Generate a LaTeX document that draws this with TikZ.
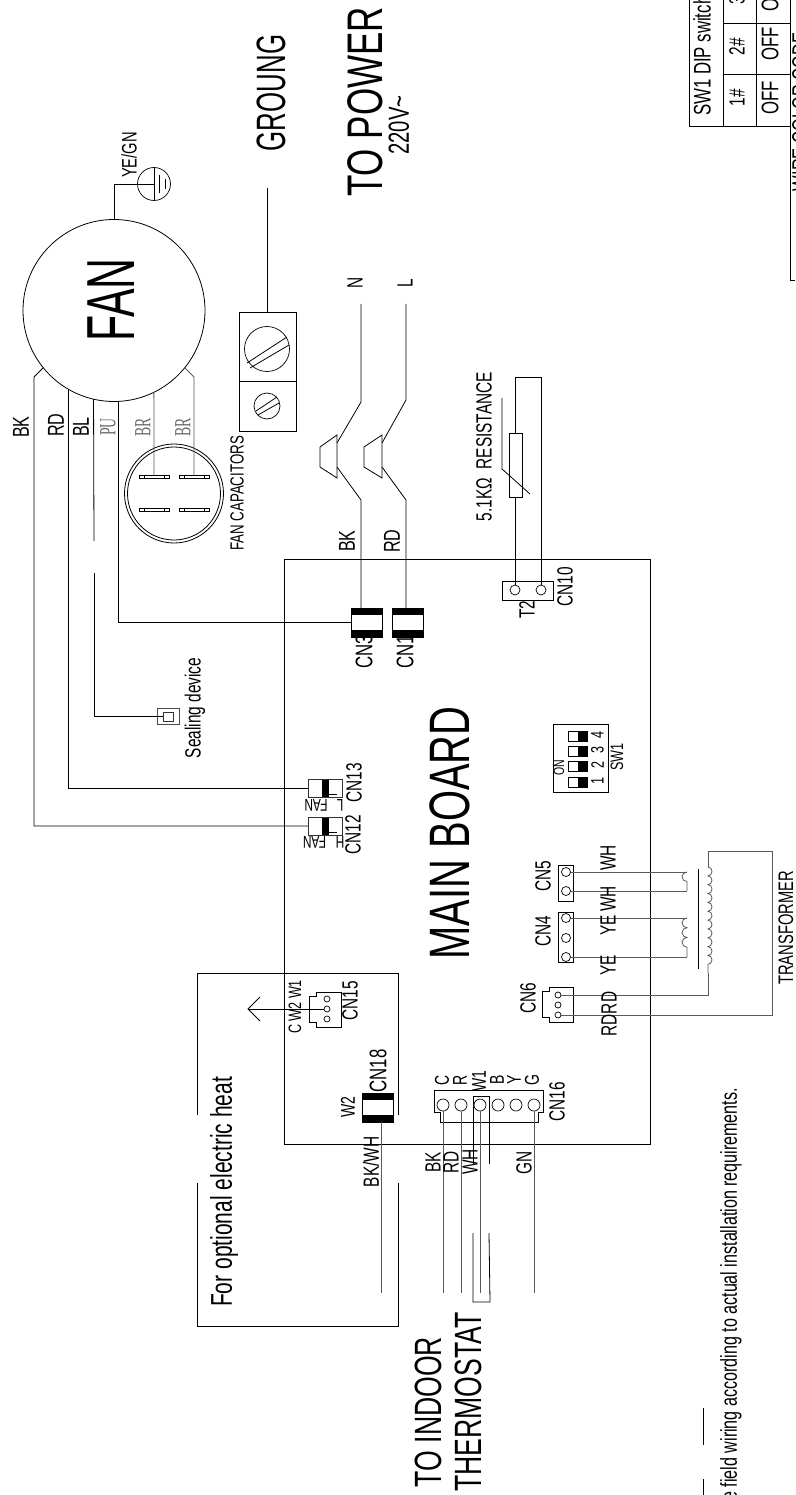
\documentclass[tikz,border=0pt]{standalone}
\usepackage{fontspec}
\setsansfont{Liberation Sans}[FakeStretch=0.7]
\newfontfamily\narrowfont{Liberation Sans}[FakeStretch=0.63]
\newfontfamily\thinfont{Liberation Serif}[FakeStretch=0.6]
\usepackage{tikz}
\usetikzlibrary{calc}
\usetikzlibrary{decorations.pathmorphing}
\tikzset{
	lbl/.style={rotate=90,inner sep=0pt,outer sep=0pt,font=\fontsize{#1}{#1}\selectfont\sffamily},
	flat/.style={inner sep=0pt,outer sep=0pt,rotate=180,font=\fontsize{#1}{#1}\selectfont\sffamily},
	brand/.style={lbl=#1,font=\fontsize{#1}{#1}\selectfont\narrowfont},
	thinlbl/.style={rotate=90,inner sep=0pt,outer sep=0pt,text=black!60,font=\fontsize{#1}{#1}\selectfont\thinfont},
	wire/.style={line width=0.8pt},
	greywire/.style={line width=0.8pt,black!65},
	box/.style={draw,inner sep=0pt,outer sep=0pt,line width=0.8pt},
	pinhole/.style={draw,circle,inner sep=0pt,outer sep=0pt,line width=0.7pt,minimum size=#1},
	clamp/.style={box,minimum width=31pt,minimum height=29pt,path picture={
		\fill (path picture bounding box.north west) rectangle ([yshift=-7pt]path picture bounding box.north east);
		\fill (path picture bounding box.south west) rectangle ([yshift=7pt]path picture bounding box.south east);}},
	fanplug/.style={box,black!80,minimum width=34pt,minimum height=18pt,path picture={
		\fill[black] ([xshift=14pt]path picture bounding box.north west) rectangle ([xshift=21pt]path picture bounding box.south west);
		\draw[black,line width=1pt] ([xshift=21pt,yshift=3pt]path picture bounding box.south west) -- ([xshift=29pt,yshift=3pt]path picture bounding box.south west);}},
	dipkey/.style={box,minimum width=19pt,minimum height=10pt,path picture={
		\fill ([xshift=10pt]path picture bounding box.north west) rectangle (path picture bounding box.south east);}},
	termbar/.style={box,line width=0.6pt,minimum width=30pt,minimum height=3.5pt},
}
\begin{document}
\begin{tikzpicture}[x=1pt,y=-1pt,font=\sffamily]
	\useasboundingbox (0,0) rectangle (795,1495);
	\node[box,minimum width=366pt,minimum height=585pt] (board) at (467,851.5) {};
	\node[lbl=57] (boardtxt) at (449.5,833) {MAIN BOARD};
	% fan and earth
	\node[box,circle,minimum size=182pt] (fan) at (114,310.5) {};
	\node[brand=68] (fantxt) at (111,300) {FAN};
	\node[pinhole=33pt] (earth) at (154,184) {};
	\coordinate (earthbend) at (114,184);
	\draw[wire] (fan.north -| earthbend) -- (earthbend) -- (earth.center);
	\draw[wire] (earth.north) -- (earth.south);
	\draw[wire] ($(earth.center)+(5.5,-9)$) -- ($(earth.center)+(5.5,9)$);
	\draw[wire] ($(earth.center)+(11,-5)$) -- ($(earth.center)+(11,5)$);
	\node[lbl=21] (yegn) at (129,155) {YE/GN};
	% fan wires
	\coordinate (bkbend) at (34,377);
	\coordinate (br2bend) at (194,377);
	\coordinate (blgap1) at (94,541);
	\coordinate (blgap2) at (94,573);
	\node[lbl=24] (cn3txt) at (364,652) {CN3};
	\node[lbl=24] (cn1txt) at (405,652) {CN1};
	\node[fanplug] (cn13) at (325,788) {};
	\node[fanplug] (cn12) at (325,826) {};
	\node[clamp] (cn3) at (366.5,622.5) {};
	\node[clamp] (cn1) at (407.5,622.5) {};
	\node[box,black!70,minimum width=22pt,minimum height=16pt] (sealout) at (168,716) {};
	\node[box,black!80,minimum width=10pt,minimum height=9pt] (sealin) at (168,716.5) {};
	\draw[wire] (fan.219) -- (bkbend) |- (cn12.west);
	\draw[wire] (fan.240) |- (cn13.west);
	\draw[wire] (fan.257) -- (blgap1);
	\draw[wire] (blgap2) |- (sealin.west);
	\draw[wire] (fan.273) |- (cn3.west);
	\node[lbl=23] (bkfan) at (21,427) {BK};
	\node[lbl=23] (rdfan) at (56,425) {RD};
	\node[lbl=23] (blfan) at (81,427) {BL};
	\node[thinlbl=23] (pufan) at (108,427) {PU};
	\node[thinlbl=23] (brfan1) at (143,427) {BR};
	\node[thinlbl=23] (brfan2) at (183,427) {BR};
	\node[lbl=22] (sealtxt) at (195,708) {Sealing device};
	% capacitors
	\node[box,circle,minimum size=99pt] (capout) at (174,493.5) {};
	\node[box,circle,minimum size=93pt] (capin) at (174,493.5) {};
	\node[termbar] (term1) at (154,477) {};
	\node[termbar] (term2) at (194,477) {};
	\node[termbar] (term3) at (154,510) {};
	\node[termbar] (term4) at (194,510) {};
	\draw[greywire] (fan.296) -- (term1.north);
	\draw[greywire] (fan.321) -- (br2bend) -- (term2.north);
	\draw ([xshift=5pt]term1.north west) -- ([xshift=5pt]term1.south west);
	\draw ([xshift=-5pt]term1.north east) -- ([xshift=-5pt]term1.south east);
	\draw ([xshift=5pt]term2.north west) -- ([xshift=5pt]term2.south west);
	\draw ([xshift=-5pt]term2.north east) -- ([xshift=-5pt]term2.south east);
	\draw ([xshift=5pt]term3.north west) -- ([xshift=5pt]term3.south west);
	\draw ([xshift=-5pt]term3.north east) -- ([xshift=-5pt]term3.south east);
	\draw ([xshift=5pt]term4.north west) -- ([xshift=5pt]term4.south west);
	\draw ([xshift=-5pt]term4.north east) -- ([xshift=-5pt]term4.south east);
	\node[lbl=19] (captxt) at (237,493.5) {FAN CAPACITORS};
	% ground block
	\node[box,minimum width=57pt,minimum height=69pt] (blockbig) at (267.5,346.5) {};
	\node[box,minimum width=57pt,minimum height=50pt] (blocksmall) at (267.5,406) {};
	\node[pinhole=45pt] (screwbig) at (267,349) {};
	\node[pinhole=26pt] (screwsmall) at (267,406) {};
	\coordinate (groundend) at (267,188);
	\draw[wire] (groundend) -- (groundend |- blockbig.north);
	\draw[wire] (247,363) -- (287,337);
	\draw[wire] (250,368) -- (289,345);
	\draw[wire] (256,411) -- (277,397);
	\draw[wire] (258,415) -- (279,403);
	\node[brand=41] (groundtxt) at (271,93) {GROUNG};
	% power plugs
	\draw[wire] (337,435) -- (337,478) -- (320,467) -- (320,447) -- cycle;
	\draw[wire] (382,435) -- (382,478) -- (364,467) -- (364,447) -- cycle;
	\coordinate (nend) at (361,304);
	\coordinate (lend) at (406,304);
	\coordinate (nlow) at (361,500);
	\coordinate (llow) at (406,500);
	\draw[wire] (nend) -- (361,402) -- (337,443);
	\draw[wire] (337,467) -- (nlow) -- (nlow |- cn3.north);
	\draw[wire] (lend) -- (406,400) -- (382,443);
	\draw[wire] (382,467) -- (llow) -- (llow |- cn1.north);
	\node[lbl=22] (ntxt) at (355,283) {N};
	\node[lbl=22] (ltxt) at (405,283) {L};
	\node[lbl=50] (powertxt) at (365,102) {TO POWER};
	\node[lbl=29] (volttxt) at (399,125) {220V\textasciitilde};
	\node[lbl=23] (bkpow) at (347,541) {BK};
	\node[lbl=23] (rdpow) at (392,541) {RD};
	% fan plug labels
	\node[flat=17] (fanl) at (316,805) {FAN};
	\node[flat=17] (fanh) at (314.5,842) {FAN};
	\node[flat=17] (ltag) at (340,805) {L};
	\node[flat=17] (htag) at (340,842) {H};
	\node[lbl=22] (cn13txt) at (354,783) {CN13};
	\node[lbl=22] (cn12txt) at (353,835) {CN12};
	% thermistor
	\node[box,minimum width=51pt,minimum height=19pt] (cn10) at (527.5,590.5) {};
	\node[pinhole=10pt] (t2a) at (515,590) {};
	\node[pinhole=10pt] (t2b) at (541,590) {};
	\node[box,minimum width=13pt,minimum height=64pt] (ntc) at (515.5,465) {};
	\coordinate (ntcbend) at (541,377);
	\draw[wire] (t2a) -- (ntc.south -| t2a);
	\draw[wire] (ntc.north -| t2a) |- (ntcbend) -- (t2b);
	\draw[wire] (502,398) -- (502,469) -- (530,494);
	\node[lbl=22] (restxt) at (484,446.5) {5.1KΩ\ \ RESISTANCE};
	\node[lbl=22] (t2txt) at (527,610) {T2};
	\node[lbl=22] (cn10txt) at (565,587) {CN10};
	% dip switch
	\node[box,minimum width=55pt,minimum height=68pt] (sw1) at (580.5,758) {};
	\node[dipkey] (key4) at (577.5,736) {};
	\node[dipkey] (key3) at (577.5,751) {};
	\node[dipkey] (key2) at (577.5,766) {};
	\node[dipkey] (key1) at (577.5,782) {};
	\node[lbl=18] (d4) at (597.5,735) {4};
	\node[lbl=18] (d3) at (597.5,750) {3};
	\node[lbl=18] (d2) at (597.5,765) {2};
	\node[lbl=18] (d1) at (597.5,781) {1};
	\node[lbl=15] (ontxt) at (559,768) {ON};
	\node[lbl=18] (sw1txt) at (617,757) {SW1};
	% transformer
	\node[box,minimum width=15pt,minimum height=36pt] (cn5) at (565.5,883) {};
	\node[box,minimum width=15pt,minimum height=50pt] (cn4) at (565.5,937) {};
	\node[pinhole=9pt] (p5a) at (566,872) {};
	\node[pinhole=9pt] (p5b) at (566,891) {};
	\node[pinhole=9pt] (p4a) at (566,918) {};
	\node[pinhole=9pt] (p4m) at (566,938) {};
	\node[pinhole=9pt] (p4b) at (566,957) {};
	\draw[wire] (573,987) -- (549,987) -- (549,991) -- (542,991) -- (542,1017) -- (549,1017) -- (549,1022) -- (573,1022) -- cycle;
	\node[pinhole=6pt] (p6a) at (558,995) {};
	\node[pinhole=6pt] (p6m) at (558,1005) {};
	\node[pinhole=6pt] (p6b) at (558,1015) {};
	\coordinate (coil5a) at (687,872);
	\coordinate (coil5b) at (687,891);
	\coordinate (coil4a) at (687,918);
	\coordinate (coil4b) at (687,957);
	\coordinate (prima) at (708,867);
	\coordinate (primb) at (708,973);
	\draw[greywire] (p5a) -- (coil5a);
	\draw[greywire] (p5b) -- (coil5b);
	\draw[greywire] (p4a) -- (coil4a);
	\draw[greywire] (p4b) -- (coil4b);
	\draw[greywire,decorate,decoration={bumps,segment length=19pt,amplitude=5pt,mirror}] (coil5a) -- (coil5b);
	\draw[greywire,decorate,decoration={bumps,segment length=19.5pt,amplitude=5pt,mirror}] (coil4a) -- (coil4b);
	\draw[greywire,decorate,decoration={bumps,segment length=17.7pt,amplitude=4pt}] (prima) -- (primb);
	\draw[wire] (698,869) -- (698,969);
	\draw[greywire] (prima) -- (708,851) -- (772,851) -- (772,1015) -- (p6b);
	\draw[greywire] (primb) -- (708,995) -- (p6a);
	\node[lbl=22] (cn5txt) at (543,876) {CN5};
	\node[lbl=22] (cn4txt) at (543,931) {CN4};
	\node[lbl=22] (cn6txt) at (528,998) {CN6};
	\node[lbl=22] (wh1) at (608,858) {WH};
	\node[lbl=22] (wh2) at (608,899) {WH};
	\node[lbl=22] (ye1) at (608,925) {YE};
	\node[lbl=22] (ye2) at (608,965) {YE};
	\node[lbl=22] (rdrd) at (609,1014) {RDRD};
	\node[lbl=21] (transtxt) at (786,928) {TRANSFORMER};
	% electric heat box
	\draw[wire] (197,1115) -- (197,973) -- (398,973) -- (398,1115);
	\draw[wire] (197,1183) -- (197,1326) -- (398,1326) -- (398,1183);
	\node[lbl=30] (heattxt) at (224,1192) {For optional electric heat};
	\draw[wire] (341,992) -- (316,992) -- (316,996) -- (309,996) -- (309,1022) -- (316,1022) -- (316,1027) -- (341,1027) -- cycle;
	\node[pinhole=6pt] (p15a) at (327,999) {};
	\node[pinhole=6pt] (p15m) at (327,1009) {};
	\node[pinhole=6pt] (p15b) at (327,1019) {};
	\coordinate (heattip) at (248,1009);
	\draw[wire] (p15m) -- (heattip);
	\draw[wire] (260,997) -- (heattip) -- (260,1021);
	\node[lbl=18] (cw2w1) at (295,1007) {C W2 W1};
	\node[lbl=22] (cn15txt) at (350,1001) {CN15};
	\node[clamp] (cn18) at (377.5,1107.5) {};
	\coordinate (bkwhend) at (381,1293);
	\draw[greywire] (cn18.south -| bkwhend) -- (bkwhend);
	\node[lbl=24] (cn18txt) at (378,1071) {CN18};
	\node[lbl=20] (w2txt) at (348,1107) {W2};
	\node[lbl=22] (bkwh) at (371,1162) {BK/WH};
	% thermostat plug
	\draw[wire] (434,1090) -- (543,1090) -- (543,1112) -- (538,1112) -- (538,1122) -- (440,1122) -- (440,1112) -- (434,1112) -- cycle;
	\node[pinhole=12pt] (pc) at (443,1105) {};
	\node[pinhole=12pt] (pr) at (461,1105) {};
	\node[pinhole=12pt] (pw) at (480,1105) {};
	\node[pinhole=12pt] (pb) at (498,1105) {};
	\node[pinhole=12pt] (py) at (516,1105) {};
	\node[pinhole=12pt] (pg) at (534,1105) {};
	\coordinate (bkend) at (443,1293);
	\coordinate (rdend) at (461,1293);
	\coordinate (whend) at (480,1293);
	\coordinate (gnend) at (534,1293);
	\draw[greywire] (pc) -- (bkend);
	\draw[greywire] (pr) -- (rdend);
	\draw[greywire] (pw) -- (whend);
	\draw[greywire] (pg) -- (gnend);
	\draw[wire] (473,1164) -- (473,1096) -- (489,1096) -- (489,1164);
	\draw[wire] (473,1233) -- (473,1302) -- (490,1302) -- (489,1233);
	\node[lbl=20] (ctxt) at (442,1080) {C};
	\node[lbl=20] (rtxt) at (460,1080) {R};
	\node[lbl=20] (w1txt) at (479,1081) {W1};
	\node[lbl=20] (btxt) at (497,1080) {B};
	\node[lbl=20] (ytxt) at (514,1080) {Y};
	\node[lbl=20] (gtxt) at (532,1080) {G};
	\node[lbl=22] (cn16txt) at (557,1102) {CN16};
	\node[lbl=22] (bktherm) at (433,1162) {BK};
	\node[lbl=22] (rdtherm) at (451,1162) {RD};
	\node[lbl=22] (whtherm) at (470,1162) {WH};
	\node[lbl=22] (gntherm) at (524,1163) {GN};
	\node[lbl=38] (indoortxt) at (428,1412) {TO INDOOR};
	\node[lbl=38] (thermtxt) at (468,1402) {THERMOSTAT};
	% note and tables
	\coordinate (noteline1) at (703,1408);
	\coordinate (noteline2) at (703,1445);
	\coordinate (noteline3) at (703,1479);
	\coordinate (noteline4) at (703,1495);
	\draw[wire] (noteline1) -- (noteline2);
	\draw[wire] (noteline3) -- (noteline4);
	\node[lbl=23,anchor=east] (notetxt) at (731,1088) {e field wiring according to actual installation requirements.};
	\draw[wire] (689,0) -- (689,126) -- (790,126) -- (790,0);
	\draw[wire] (723,0) -- (723,126);
	\draw[wire] (756,0) -- (756,126);
	\draw[wire] (723,74) -- (790,74);
	\draw[wire] (723,23) -- (790,23);
	\draw[wire] (790,126) -- (790,280) -- (795,280);
	\node[lbl=24,anchor=west] (diptxt) at (702,116) {SW1 DIP switch};
	\node[lbl=22] (hash1) at (737,98) {1\#};
	\node[lbl=22] (hash2) at (737,47) {2\#};
	\node[lbl=22,anchor=west] (hash3) at (737,5) {3\#};
	\node[lbl=24] (off1) at (770,98) {OFF};
	\node[lbl=24] (off2) at (770,44) {OFF};
	\node[lbl=24,anchor=west] (off3) at (770,12) {OFF};
	\node[lbl=23.5] (colortxt) at (800.5,112) {WIRE COLOR CODE};
\end{tikzpicture}
\end{document}
